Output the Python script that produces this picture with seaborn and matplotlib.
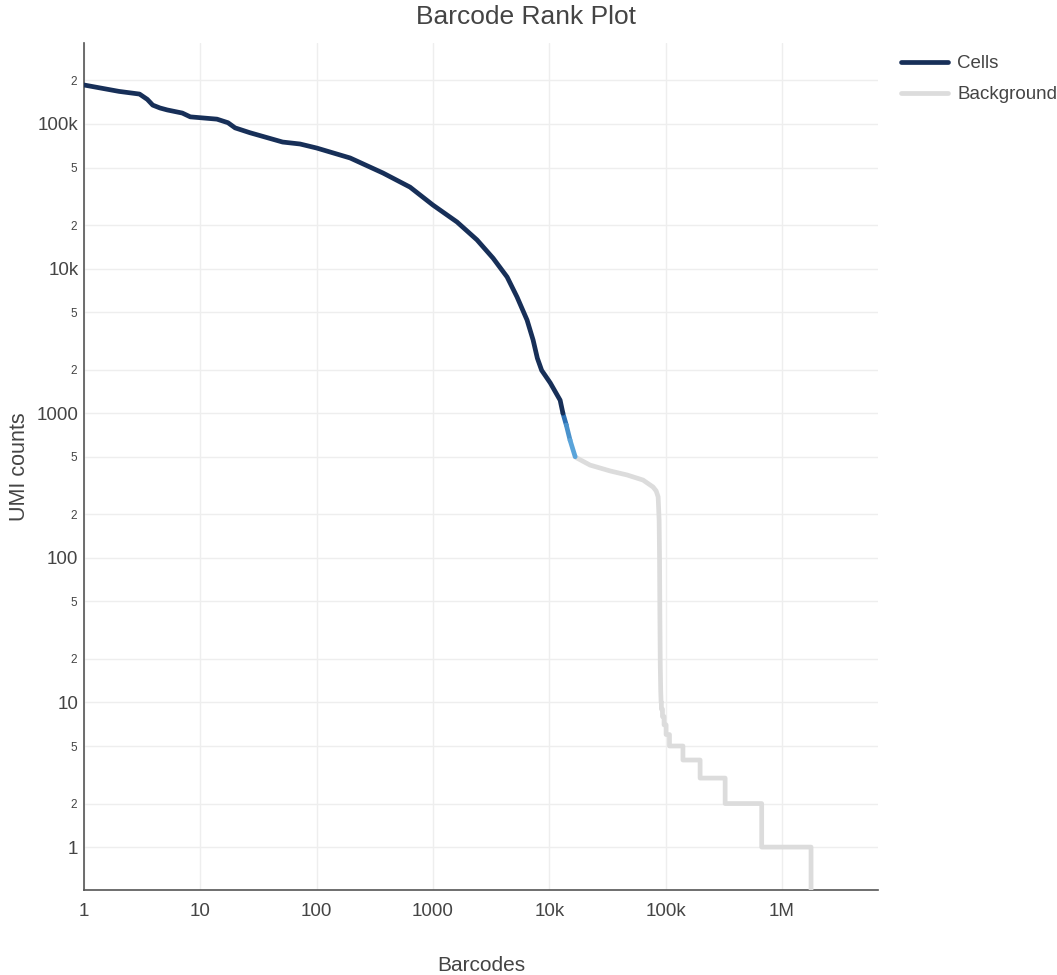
import numpy as np
import matplotlib
matplotlib.use("Agg")
import matplotlib.pyplot as plt
import seaborn as sns
from matplotlib.ticker import FixedLocator, FixedFormatter, NullLocator

# --- datos ---
cells_rank = [1, 2, 3, 3.5, 3.9, 4.5, 5.2, 7, 8.2, 13.9, 17.3, 19.9, 26.7, 51,
              72, 100, 194, 372, 635, 1000, 1610, 2390, 3290, 4340, 5280, 6440,
              7260, 7900, 8600, 10200, 12400, 13100]
cells_umi = [186000, 168000, 161000, 148000, 135000, 129000, 125000, 119000,
             112000, 108000, 102000, 94000, 87000, 75000, 72700, 68200, 58200,
             45800, 36600, 27500, 21000, 15800, 11800, 8750, 6370, 4410, 3210,
             2400, 1980, 1620, 1230, 1000]

mixed_rank = [13100, 14000, 15100, 16700]
mixed_umi = [1000, 830, 650, 500]

bg_rank = [16700, 17300, 22400, 33300, 46700, 64000, 78000, 83000, 86300, 88000,
           88700, 89300, 90000, 90800, 91500, 92000, 92000, 94000, 94000, 97000,
           97000, 101000, 101000, 108000, 108000, 141000, 141000, 198000, 198000,
           325000, 325000, 670000, 670000, 1780000, 1780000]
bg_umi = [500, 490, 438, 399, 374, 345, 309, 290, 264, 182,
          100, 40, 18, 12, 10, 10, 9, 9, 8, 8,
          7, 7, 6, 6, 5, 5, 4, 4, 3,
          3, 2, 2, 1, 1, 0.1]

x_ticks = [1, 10, 100, 1000, 1e4, 1e5, 1e6]
x_labels = ["1", "10", "100", "1000", "10k", "100k", "1M"]
y_major = [1, 10, 100, 1000, 1e4, 1e5]
y_major_labels = ["1", "10", "100", "1000", "10k", "100k"]

# --- estilo ---
sns.set_theme(style="white")
plt.rcParams["font.family"] = ["Liberation Sans", "DejaVu Sans"]
txt = "#444444"

fig = plt.figure(figsize=(10.57, 9.75), dpi=100)
ax = fig.add_axes([84 / 1057, 85 / 975, (878 - 84) / 1057, (890 - 43) / 975])

sns.lineplot(x=bg_rank, y=bg_umi, estimator=None, sort=False, ax=ax,
             color="#dcdcdc", lw=3.4, label="Background", zorder=3)
# tramo de transición coloreado en azules
blues = ["#1d4f91", "#2c6fb3", "#4a92cc", "#5aa4da"]
for i in range(len(mixed_rank) - 1):
    ax.plot(mixed_rank[i:i + 2], mixed_umi[i:i + 2], color=blues[i + 1],
            lw=3.4, solid_capstyle="round", zorder=4)
sns.lineplot(x=cells_rank, y=cells_umi, estimator=None, sort=False, ax=ax,
             color="#172f58", lw=3.4, label="Cells", zorder=5)

ax.set_xscale("log")
ax.set_yscale("log")
ax.set_xlim(1, 6.7e6)
ax.set_ylim(0.505, 3.63e5)

ax.xaxis.set_major_locator(FixedLocator(x_ticks))
ax.xaxis.set_major_formatter(FixedFormatter(x_labels))
ax.xaxis.set_minor_locator(NullLocator())

y_minor = []
y_minor_labels = []
for d in [1, 10, 100, 1000, 1e4, 1e5]:
    for m, s in [(2, "2"), (5, "5")]:
        if d * m < 3.6e5:
            y_minor.append(d * m)
            y_minor_labels.append(s)
ax.yaxis.set_major_locator(FixedLocator(y_major))
ax.yaxis.set_major_formatter(FixedFormatter(y_major_labels))
ax.yaxis.set_minor_locator(FixedLocator(y_minor))
ax.yaxis.set_minor_formatter(FixedFormatter(y_minor_labels))

ax.tick_params(axis="both", which="both", length=0, colors=txt)
ax.tick_params(axis="x", which="major", labelsize=13.5, pad=9)
ax.tick_params(axis="y", which="major", labelsize=13.5, pad=4)
ax.tick_params(axis="y", which="minor", labelsize=8.5, pad=5)

ax.grid(True, which="major", axis="x", color="#eeeeee", lw=1)
ax.grid(True, which="both", axis="y", color="#eeeeee", lw=1)
ax.set_axisbelow(True)

for s in ["top", "right"]:
    ax.spines[s].set_visible(False)
for s in ["left", "bottom"]:
    ax.spines[s].set_color("#555555")
    ax.spines[s].set_linewidth(1.2)

ax.set_xlabel("Barcodes", fontsize=15, color=txt, labelpad=26)
ax.set_ylabel("UMI counts", fontsize=15.5, color=txt, labelpad=5)
fig.text(526 / 1057, 1 - 17 / 975, "Barcode Rank Plot", ha="center", va="center",
         fontsize=19, color=txt)

handles, labels = ax.get_legend_handles_labels()
order = [labels.index("Cells"), labels.index("Background")]
leg = ax.legend([handles[i] for i in order], [labels[i] for i in order],
                loc="upper left", bbox_to_anchor=(901 / 1057, 1 - 55 / 975),
                bbox_transform=fig.transFigure, frameon=False, fontsize=13.5,
                handlelength=2.5, handletextpad=0.5, labelspacing=0.75,
                borderaxespad=0, borderpad=0)
for t in leg.get_texts():
    t.set_color(txt)

fig.savefig("out.png", dpi=100, facecolor="white")
